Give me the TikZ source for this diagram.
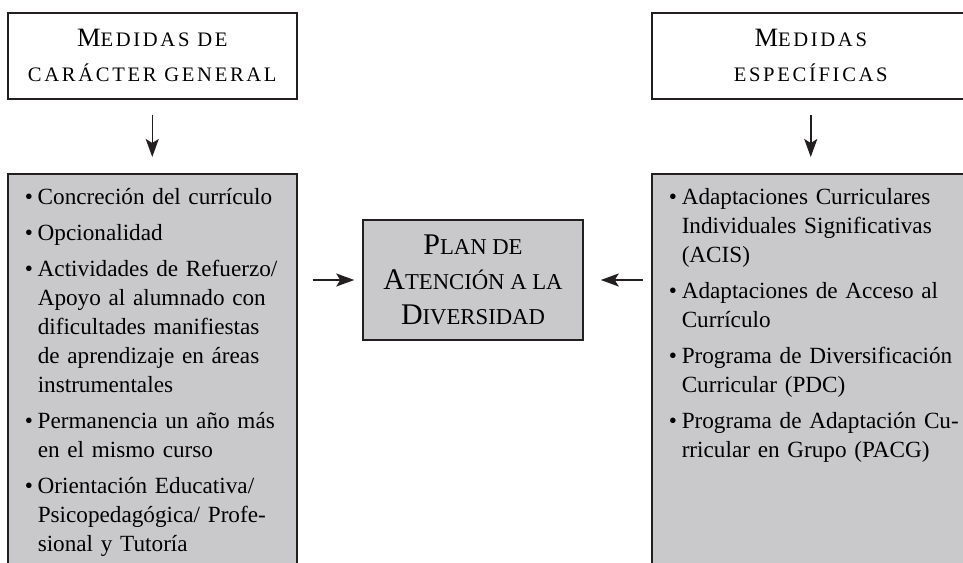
\documentclass[tikz,border=0pt]{standalone}
\usepackage{fontspec}
\setmainfont{Liberation Serif}
\newfontfamily\capsfont[LetterSpace=13]{Liberation Serif}
\usetikzlibrary{arrows.meta,positioning}
\definecolor{boxgray}{RGB}{201,201,203}
\definecolor{boxline}{RGB}{35,31,32}
% fake small caps: a larger capital first
\newcommand{\hcap}[1]{{\fontsize{26.5}{35}\selectfont #1}}
\newcommand{\pcap}[1]{{\fontsize{30}{35}\selectfont #1}}
% list lines, kept unbroken
\newcommand{\itm}[1]{\makebox[13pt][l]{\textbullet}\mbox{#1}}
\newcommand{\ind}[1]{\hspace*{13pt}\mbox{#1}}
\tikzset{
  head/.style={draw=boxline, line width=1.5pt, anchor=north west, minimum height=86pt,
    align=center, inner sep=0pt, font=\capsfont\fontsize{20.6}{35}\selectfont},
  plan/.style={draw=boxline, fill=boxgray, line width=1.5pt, minimum width=220pt,
    minimum height=120pt, align=center, inner sep=0pt, font=\fontsize{22.7}{35}\selectfont},
  list/.style={draw=boxline, fill=boxgray, line width=1.5pt, anchor=north west,
    align=left, inner xsep=17pt, inner ysep=15pt, text depth=420pt,
    font=\fontsize{23.2}{29}\selectfont},
  link/.style={draw=boxline, line width=1.5pt, -{Stealth[length=18pt,width=13pt,inset=4pt]}}
}
\begin{document}
\begin{tikzpicture}[x=1pt,y=-1pt]
  \useasboundingbox (0,0) rectangle (963,562);
  \clip (0,0) rectangle (963,562);
  % top boxes
  \node[head, minimum width=289pt] (gen) at (7,12)
    {\hcap{M}EDIDAS DE\\CARÁCTER GENERAL};
  \node[head, minimum width=318pt] (esp) at (651,12)
    {\hcap{M}EDIDAS\\ESPECÍFICAS};
  % lists
  \node[list, text width=255pt] (genlist) at (7,173) {%
    \itm{Concreción del currículo}\\[7pt]
    \itm{Opcionalidad}\\[7pt]
    \itm{Actividades de Refuerzo/}\\
    \ind{Apoyo al alumnado con}\\
    \ind{dificultades manifiestas}\\
    \ind{de aprendizaje en áreas}\\
    \ind{instrumentales}\\[7pt]
    \itm{Permanencia un año más}\\
    \ind{en el mismo curso}\\[7pt]
    \itm{Orientación Educativa/}\\
    \ind{Psicopedagógica/ Profe-}\\
    \ind{sional y Tutoría}};
  \node[list, text width=284pt] (esplist) at (651,173) {%
    \itm{Adaptaciones Curriculares}\\
    \ind{Individuales Significativas}\\
    \ind{(ACIS)}\\[7pt]
    \itm{Adaptaciones de Acceso al}\\
    \ind{Currículo}\\[7pt]
    \itm{Programa de Diversificación}\\
    \ind{Curricular (PDC)}\\[7pt]
    \itm{Programa de Adaptación Cu-}\\
    \ind{rricular en Grupo (PACG)}};
  % centre
  \node[plan] (plan) at (473,280)
    {\pcap{P}LAN DE\\\pcap{A}TENCIÓN A LA\\\pcap{D}IVERSIDAD};
  % arrows
  \draw[link, shorten <=15pt, shorten >=16pt] (gen.south) -- (genlist.north);
  \draw[link, shorten <=15pt, shorten >=16pt] (esp.south) -- (esplist.north);
  \draw[link, shorten <=15pt, shorten >=8pt] (genlist.east |- plan) -- (plan.west);
  \draw[link, shorten <=8pt, shorten >=17pt] (esplist.west |- plan) -- (plan.east);
\end{tikzpicture}
\end{document}
